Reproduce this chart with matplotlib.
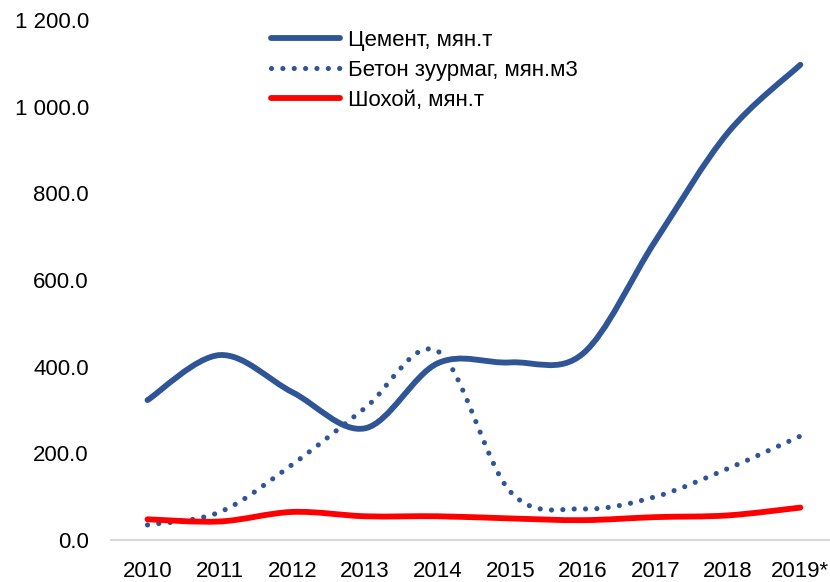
import matplotlib
matplotlib.use("Agg")
import matplotlib.pyplot as plt
from matplotlib.path import Path
from matplotlib.patches import PathPatch
from matplotlib.lines import Line2D
from matplotlib.ticker import FuncFormatter

plt.rcParams['font.family'] = ['Liberation Sans', 'DejaVu Sans']

years = ['2010', '2011', '2012', '2013', '2014', '2015', '2016', '2017', '2018', '2019*']
cement = [323, 427, 341, 258, 408, 410, 430, 690, 940, 1097]
concrete = [35, 65, 175, 305, 436, 112, 72, 100, 165, 240]
lime = [48, 43, 65, 55, 55, 50, 46, 53, 57, 75]

labels = ['Цемент, мян.т', 'Бетон зуурмаг, мян.м3', 'Шохой, мян.т']
blue = '#2f5597'
red = '#ff0000'


def smooth_path(xs, ys):
    # excel-like smoothed line: cubic bezier through each point
    pts = list(zip(xs, ys))
    n = len(pts)
    verts = [pts[0]]
    codes = [Path.MOVETO]
    for i in range(n - 1):
        p0 = pts[i - 1] if i > 0 else pts[i]
        p1 = pts[i]
        p2 = pts[i + 1]
        p3 = pts[i + 2] if i + 2 < n else pts[i + 1]
        c1 = (p1[0] + (p2[0] - p0[0]) / 6, p1[1] + (p2[1] - p0[1]) / 6)
        c2 = (p2[0] - (p3[0] - p1[0]) / 6, p2[1] - (p3[1] - p1[1]) / 6)
        verts += [c1, c2, p2]
        codes += [Path.CURVE4] * 3
    return Path(verts, codes)


fig = plt.figure(figsize=(8.3, 5.82), dpi=100)
ax = fig.add_axes([0.134, 0.072, 0.874, 0.8935])

x = list(range(len(years)))
ax.add_patch(PathPatch(smooth_path(x, cement), fill=False, edgecolor=blue,
                       linewidth=4.2, capstyle='round', joinstyle='round'))
ax.add_patch(PathPatch(smooth_path(x, concrete), fill=False, edgecolor=blue,
                       linewidth=3.7, linestyle=(0, (0.01, 2.2)), capstyle='round'))
ax.add_patch(PathPatch(smooth_path(x, lime), fill=False, edgecolor=red,
                       linewidth=4.2, capstyle='round', joinstyle='round'))

ax.set_xlim(-0.5, len(years) - 0.5)
ax.set_ylim(0, 1200)
ax.set_xticks(x)
ax.set_xticklabels(years)
ax.set_yticks(range(0, 1201, 200))
ax.yaxis.set_major_formatter(FuncFormatter(lambda v, p: f"{v:,.1f}".replace(",", " ")))
ax.tick_params(length=0, labelsize=16, colors='black')
ax.tick_params(axis='x', pad=15)
ax.tick_params(axis='y', pad=16)

for side in ['top', 'right', 'left']:
    ax.spines[side].set_visible(False)
ax.spines['bottom'].set_color('#d9d9d9')
ax.spines['bottom'].set_linewidth(1.5)

handles = [
    Line2D([], [], color=blue, linewidth=4.2, solid_capstyle='round'),
    Line2D([], [], color=blue, linewidth=3.7, linestyle=(0, (0.01, 2.2)), dash_capstyle='round'),
    Line2D([], [], color=red, linewidth=4.2, solid_capstyle='round'),
]
ax.legend(handles, labels, loc='upper left', bbox_to_anchor=(0.22, 0.981), frameon=False,
          fontsize=16, handlelength=3.1, handletextpad=0.36, labelspacing=0.4,
          borderaxespad=0, borderpad=0)

fig.savefig('out.png', dpi=100)
